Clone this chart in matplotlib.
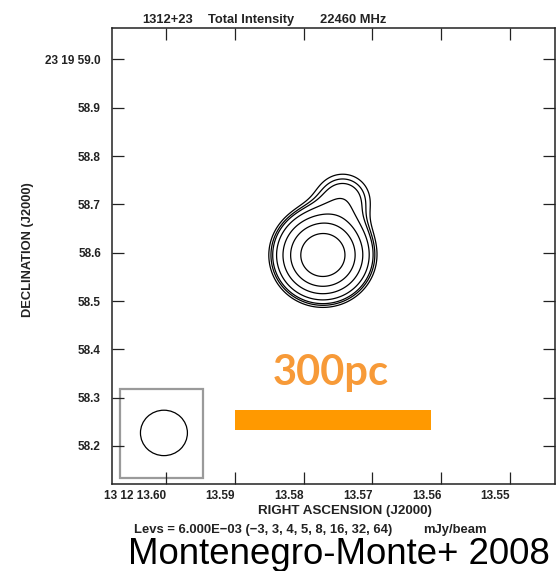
import numpy as np
import matplotlib
matplotlib.use("Agg")
import matplotlib.pyplot as plt
from matplotlib.patches import Rectangle, Ellipse

plt.rcParams['font.family'] = ['Liberation Sans', 'DejaVu Sans']

# map window: RA seconds of 13h12m, Dec arcsec of +23d19m
ra_lim = (13.60785, 13.54346)
dec_lim = (58.1213, 59.0652)
dec_deg = 23.333

ra_ticks = [13.60, 13.59, 13.58, 13.57, 13.56, 13.55]
ra_labels = ["13 12 13.60", "13.59", "13.58", "13.57", "13.56", "13.55"]
dec_ticks = [59.0, 58.9, 58.8, 58.7, 58.6, 58.5, 58.4, 58.3, 58.2]
dec_labels = ["23 19 59.0", "58.9", "58.8", "58.7", "58.6", "58.5", "58.4", "58.3", "58.2"]

# contour levels (mJy/beam) = base * multipliers
lev_base = 6.0e-3
lev_mult = [-3, 3, 4, 5, 8, 16, 32, 64]

# restoring beam (arcsec) and its position in the corner box
beam_fwhm = 0.094
beam_ra, beam_dec = 13.6003, 58.227
beam_box_ra = (13.60669, 13.59462)
beam_box_dec = (58.1337, 58.318)

# gaussian components: ra (s), dec (arcsec), peak (mJy/beam), sigma (arcsec)
comp_ra = [13.5772, 13.5743]
comp_dec = [58.595, 58.709]
comp_peak = [0.708, 0.042]
comp_sigma = [beam_fwhm / 2.3548, 0.041]

# 300 pc scale bar
bar_ra = (13.58997, 13.56148)
bar_dec = (58.2331, 58.2745)

cosd = np.cos(np.radians(dec_deg))
ra = np.linspace(ra_lim[1], ra_lim[0], 500)
dec = np.linspace(dec_lim[0], dec_lim[1], 500)
RA, DEC = np.meshgrid(ra, dec)
img = np.zeros_like(RA)
for r0, d0, pk, sg in zip(comp_ra, comp_dec, comp_peak, comp_sigma):
    dx = (RA - r0) * 15 * cosd
    dy = DEC - d0
    img += pk * np.exp(-(dx**2 + dy**2) / (2 * sg**2))

fig = plt.figure(figsize=(5.58, 5.71), dpi=100)
ax = fig.add_axes([0.2007, 0.1524, 0.7939, 0.7986])

levels = [lev_base * m for m in lev_mult]
ax.contour(RA, DEC, img, levels=levels, colors='black', linewidths=0.9)

# beam
ax.add_patch(Rectangle((beam_box_ra[0], beam_box_dec[0]),
                       beam_box_ra[1] - beam_box_ra[0],
                       beam_box_dec[1] - beam_box_dec[0],
                       fill=False, edgecolor='#9a9a9a', linewidth=1.6))
ax.add_patch(Ellipse((beam_ra, beam_dec), beam_fwhm / (15 * cosd), beam_fwhm,
                     fill=False, edgecolor='black', linewidth=0.9))

# scale bar
ax.add_patch(Rectangle((bar_ra[0], bar_dec[0]), bar_ra[1] - bar_ra[0],
                       bar_dec[1] - bar_dec[0], facecolor='#ff9900',
                       edgecolor='none'))

ax.set_xlim(ra_lim)
ax.set_ylim(dec_lim)
ax.set_xticks(ra_ticks)
ax.set_xticklabels(ra_labels, ha='right')
ax.set_yticks(dec_ticks)
ax.set_yticklabels(dec_labels)
ax.tick_params(direction='in', length=8.6, width=0.9, color='#222222',
               top=True, right=True, labelsize=8.5, pad=4.5)
ax.tick_params(axis='y', pad=8)
for lab in ax.get_xticklabels() + ax.get_yticklabels():
    lab.set_fontweight('bold')
    lab.set_color('#222222')
for sp in ax.spines.values():
    sp.set_linewidth(1.1)
    sp.set_color('#222222')

tkw = dict(fontsize=9.3, fontweight='bold', color='#222222')
fig.text(0.2545, 0.9597, "1312+23", **tkw)
fig.text(0.3728, 0.9597, "Total Intensity", **tkw)
fig.text(0.5735, 0.9597, "22460 MHz", **tkw)
fig.text(0.618, 0.0998, "RIGHT ASCENSION (J2000)", ha='center',
         fontsize=9.6, fontweight='bold', color='#222222')
fig.text(0.050, 0.562, "DECLINATION (J2000)", rotation=90, ha='center',
         va='center', fontsize=9.3, fontweight='bold', color='#222222')
fig.text(0.240, 0.0665, "Levs = 6.000E\u221203 (\u22123, 3, 4, 5, 8, 16, 32, 64)",
         fontsize=9.4, fontweight='bold', color='#222222')
fig.text(0.758, 0.0665, "mJy/beam", fontsize=9.4, fontweight='bold',
         color='#222222')

fig.text(0.593, 0.3257, "300pc", ha='center', fontsize=30, fontweight='bold',
         family='Lato', color='#f79a38')
fig.text(0.2294, 0.0123, "Montenegro-Monte+ 2008", fontsize=26.4, color='black')

fig.savefig("out.png", dpi=100)
